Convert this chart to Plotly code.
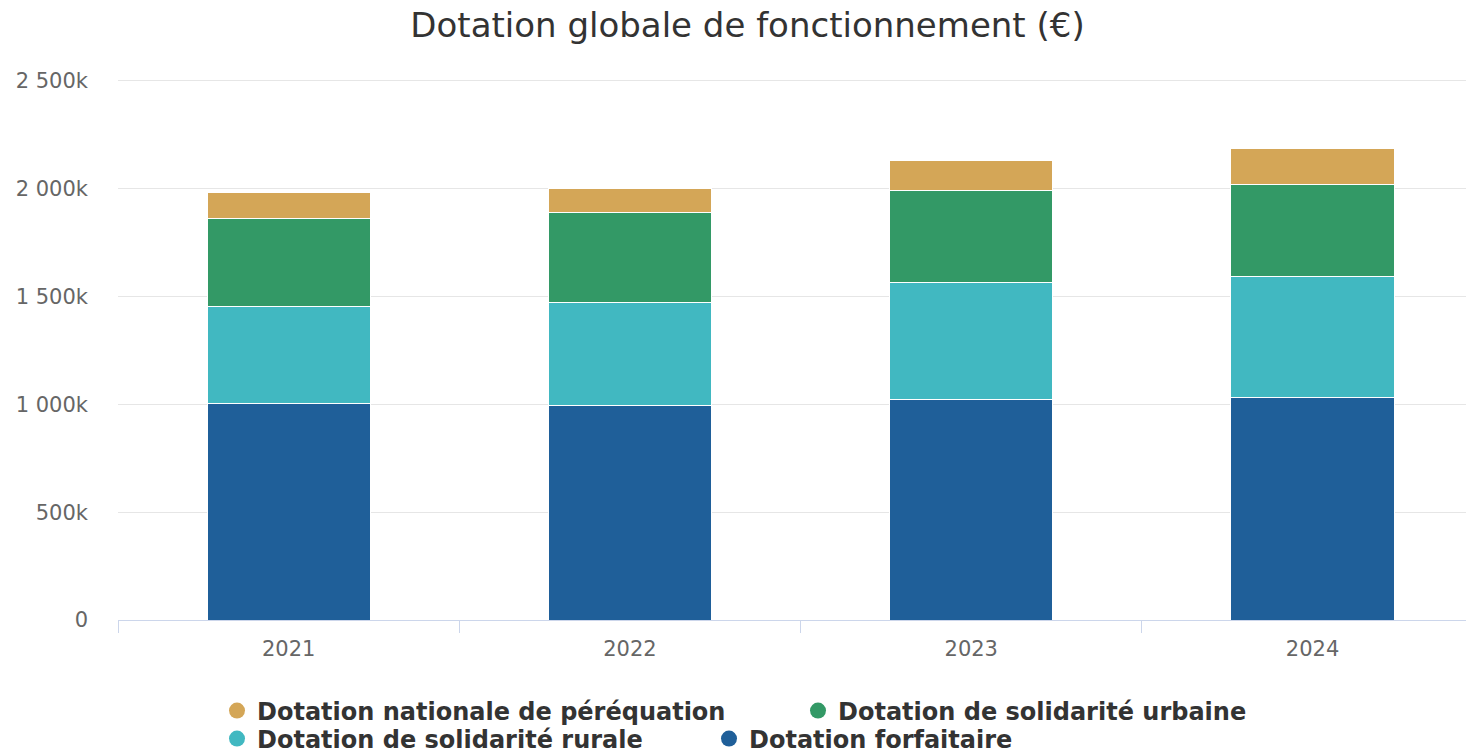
import plotly.graph_objects as go

years = ["2021", "2022", "2023", "2024"]
forfaitaire = [1002000, 993000, 1020000, 1030000]
rurale = [450000, 477000, 543000, 561000]
urbaine = [408000, 418000, 427000, 427000]
perequation = [120000, 111000, 139000, 167000]

y_tickvals = [0, 500000, 1000000, 1500000, 2000000, 2500000]
y_ticktext = ["0", "500k", "1 000k", "1 500k", "2 000k", "2 500k"]

names = {
    "forf": "Dotation forfaitaire",
    "rur": "Dotation de solidarité rurale",
    "urb": "Dotation de solidarité urbaine",
    "per": "Dotation nationale de péréquation",
}
colors = {"forf": "#1f5f99", "rur": "#41b8c1", "urb": "#339966", "per": "#d4a657"}
series = [("forf", forfaitaire), ("rur", rurale), ("urb", urbaine), ("per", perequation)]

fig = go.Figure()
for key, vals in series:
    fig.add_trace(go.Bar(
        x=years, y=vals, name=names[key], legendgroup=key, showlegend=False,
        marker=dict(color=colors[key], line=dict(color="white", width=1)),
    ))

# legend entries (circles), split in two rows as in the reference
legend_rows = [("legend", ["per", "urb"]), ("legend2", ["rur", "forf"])]
for lg, keys in legend_rows:
    for key in keys:
        fig.add_trace(go.Scatter(
            x=[None], y=[None], mode="markers", name=names[key], legendgroup=key,
            legend=lg, showlegend=True,
            marker=dict(color=colors[key], size=22, symbol="circle"),
        ))

# the page adds an 8px body margin, so the figure is sized to fit the window
W, H = 1466, 744
L, T, B = 110, 71, 132
PLOT_H = H - T - B
PLOT_W = W - L
AXIS_Y = H - B
legend_font = dict(family="DejaVu Sans", size=24, color="#333333", weight="bold")
fig.update_layout(
    width=W, height=H,
    paper_bgcolor="white", plot_bgcolor="white",
    barmode="stack", bargap=0.522,
    margin=dict(l=L, r=0, t=T, b=B, autoexpand=False),
    font=dict(family="DejaVu Sans", color="#666666"),
    title=dict(text="Dotation globale de fonctionnement (€)", x=739.5 / W, xref="container", xanchor="center",
               y=1 - 17 / H, yref="container", yanchor="middle",
               font=dict(family="DejaVu Sans", size=34, color="#333333")),
    legend=dict(orientation="h", x=(209 - L) / PLOT_W, xanchor="left", y=-(703 - AXIS_Y) / PLOT_H,
                yanchor="middle", font=legend_font, entrywidth=536, bgcolor="rgba(0,0,0,0)",
                borderwidth=0, itemsizing="trace", tracegroupgap=0),
    legend2=dict(orientation="h", x=(209 - L) / PLOT_W, xanchor="left", y=-(731 - AXIS_Y) / PLOT_H,
                 yanchor="middle", font=legend_font, entrywidth=447, bgcolor="rgba(0,0,0,0)",
                 borderwidth=0, itemsizing="trace", tracegroupgap=0),
    xaxis=dict(type="category", range=[-0.5, 3.473], showgrid=False, showline=True, linecolor="#ccd6eb",
               linewidth=1, ticks="outside", tickson="boundaries", ticklen=12, tickcolor="#ccd6eb",
               ticklabelstandoff=10, automargin=False,
               tickfont=dict(family="DejaVu Sans", size=21, color="#666666"), zeroline=False),
    yaxis=dict(range=[0, 2508000], tickvals=y_tickvals, ticktext=y_ticktext, showgrid=True,
               gridcolor="#e6e6e6", gridwidth=1, zeroline=False, showline=False, ticks="",
               ticklabelstandoff=29, automargin=False,
               tickfont=dict(family="DejaVu Sans", size=21, color="#666666")),
)

fig.write_html("out.html")
